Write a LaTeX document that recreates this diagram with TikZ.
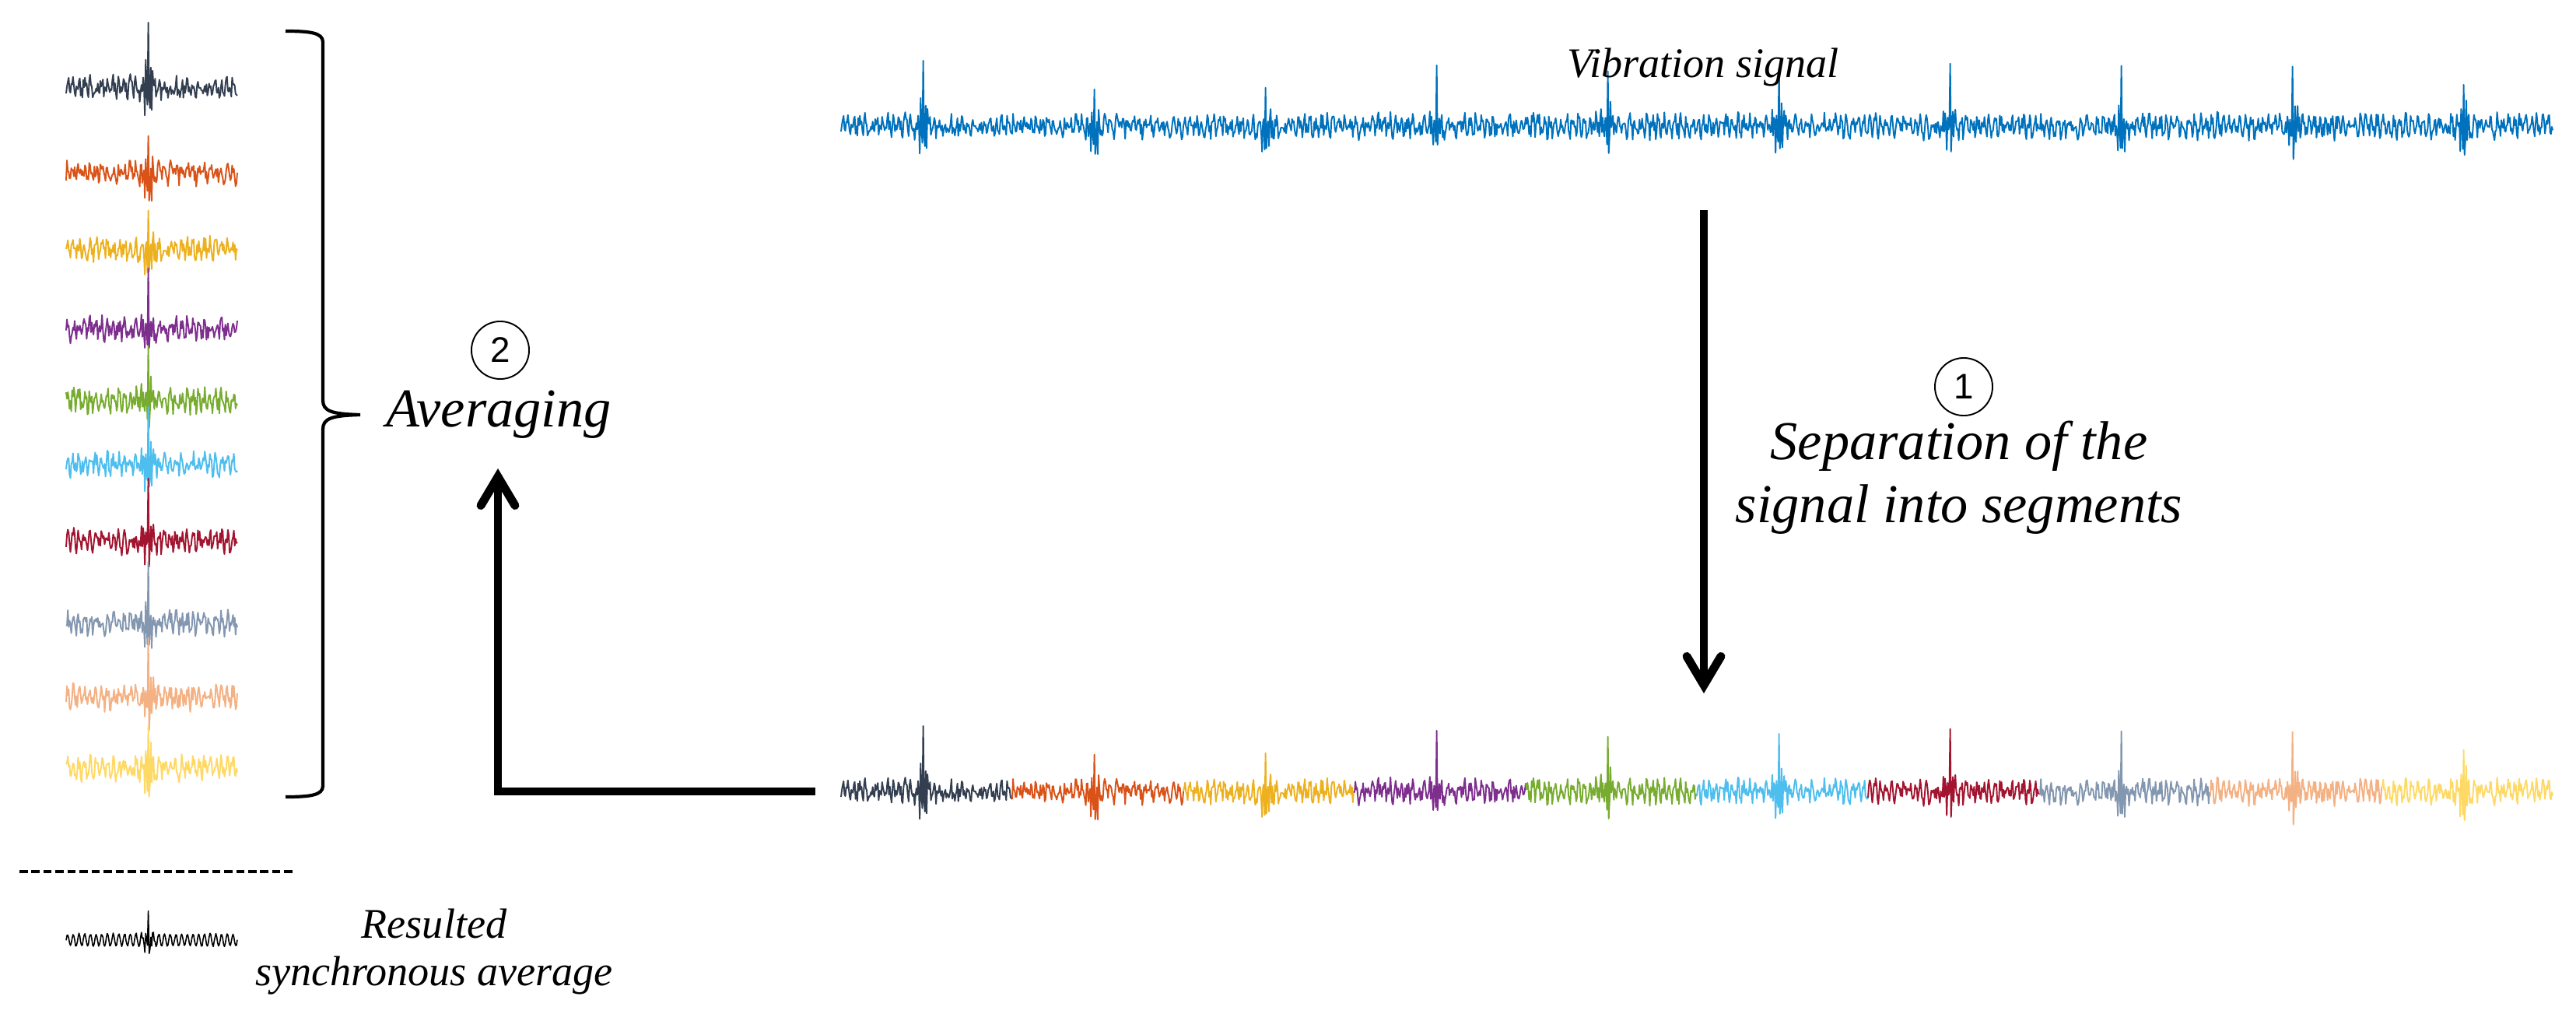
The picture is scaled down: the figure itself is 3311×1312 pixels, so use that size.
\documentclass[tikz,border=0pt]{standalone}
\usepackage{fontspec}
\setmainfont{Liberation Serif}
\newfontfamily\digitfont{Liberation Sans}
\usetikzlibrary{arrows.meta}
\definecolor{sg0}{HTML}{333F50}
\definecolor{sg1}{HTML}{D95319}
\definecolor{sg2}{HTML}{EDB120}
\definecolor{sg3}{HTML}{7E2F8E}
\definecolor{sg4}{HTML}{77AC30}
\definecolor{sg5}{HTML}{4DBEEE}
\definecolor{sg6}{HTML}{A2142F}
\definecolor{sg7}{HTML}{8497B0}
\definecolor{sg8}{HTML}{F4B183}
\definecolor{sg9}{HTML}{FFD966}
\definecolor{vibblue}{HTML}{0072BD}
\makeatletter
\pgfmathdeclarefunction{sv}{1}{\pgfmathint@{#1}\edef\pgfmathresult{\csname sv@\pgfmathresult\endcsname}}
\makeatother
\begin{document}
\begin{tikzpicture}[x=0.01cm,y=-0.01cm,
  sigline/.style={line width=0.55pt, line join=round},
  avgline/.style={line width=0.45pt, black, line join=round},
  bigarrow/.style={line width=3.1pt, line join=miter,
    -{Straight Barb[length=10.5pt,width=12.5pt,line cap=round,line join=miter]}},
  bracepath/.style={line width=1.2pt},
  dashline/.style={line width=0.9pt, dash pattern=on 3pt off 1.4pt},
  lblbig/.style={font=\fontsize{20}{22.8}\selectfont\itshape, inner sep=0pt},
  lblsmall/.style={font=\fontsize{15.4}{17.1}\selectfont\itshape, inner sep=0pt},
  numcirc/.style={circle, draw, line width=0.55pt, minimum size=0.74cm, inner sep=0pt,
    font=\fontsize{13}{13}\selectfont\digitfont}
]
\useasboundingbox (0,0) rectangle (3311,1312);
% ---- signal samples (deterministic) ----
\pgfmathsetseed{12}
\foreach \n in {0,...,2000}{%
  \pgfmathtruncatemacro\m{mod(\n,200)}%
  \pgfmathtruncatemacro\p{mod(\n,20)}%
  \pgfmathsetmacro\d{\m-96}%
  \pgfmathsetmacro\v{8*sin(54*\p)+11*rand+66*exp(max(-9,-abs(\d)/4))*cos(130*\d)*(0.5+0.7*rnd)}%
  \expandafter\xdef\csname sv@\n\endcsname{\v}%
}
% ---- vibration signal ----
\draw[sigline, vibblue] plot[variable=\t, samples at={0,...,2000}] ({1081+1.1*\t},{162-sv(\t)});
\node[lblsmall, anchor=base] (vibtxt) at (2189,100) {Vibration signal};
% ---- segmented signal ----
\foreach \k in {0,...,9}{
  \pgfmathtruncatemacro\ka{200*\k}
  \pgfmathtruncatemacro\kb{200*\k+200}
  \draw[sigline, color=sg\k] plot[variable=\t, samples at={\ka,...,\kb}] ({1081+1.1*\t},{1017-sv(\t)});
}
% ---- stacked segments ----
\foreach \k/\yc in {0/113,1/222,2/320,3/423,4/515,5/597,6/695,7/800,8/896,9/987}{
  \pgfmathtruncatemacro\ka{200*\k}
  \pgfmathtruncatemacro\kb{200*\k+200}
  \draw[sigline, color=sg\k] plot[variable=\t, samples at={\ka,...,\kb}] ({85+1.1*(\t-\ka)},{\yc-sv(\t)});
}
% ---- brace ----
\draw[bracepath] (367,40) .. controls (398,40) and (415,42) .. (415,54)
  -- (415,514) .. controls (415,528) and (425,532) .. (463,533)
  .. controls (425,534) and (415,538) .. (415,552)
  -- (415,1010) .. controls (415,1022) and (398,1024) .. (367,1024);
% ---- labels ----
\node[numcirc] (c2) at (643,450) {2};
\node[lblbig, anchor=base] (avgtxt) at (641,548) {Averaging};
\node[numcirc] (c1) at (2524,497) {1};
\node[lblbig, align=center, anchor=base] (septxt) at (2518,671) {Separation of the\\signal into segments};
% ---- arrows ----
\coordinate (vA) at (2190,270);
\coordinate (vB) at (2190,891);
\draw[bigarrow] (vA) -- (vB);
\coordinate (hA) at (1048,1017);
\coordinate (uB) at (640,602);
\draw[bigarrow] (hA) -| (uB);
% ---- result ----
\draw[dashline] (25,1120) -- (380,1120);
\draw[avgline] plot[variable=\t, samples at={0,...,200}]
  ({85+1.1*\t},{1208-(8*sin(54*mod(\t,20))+1.2*rand+32*exp(max(-9,-abs(\t-96)/3))*cos(130*(\t-96)))});
\node[lblsmall, align=center, anchor=base] (restxt) at (558,1266) {Resulted\\synchronous average};
\end{tikzpicture}
\end{document}
